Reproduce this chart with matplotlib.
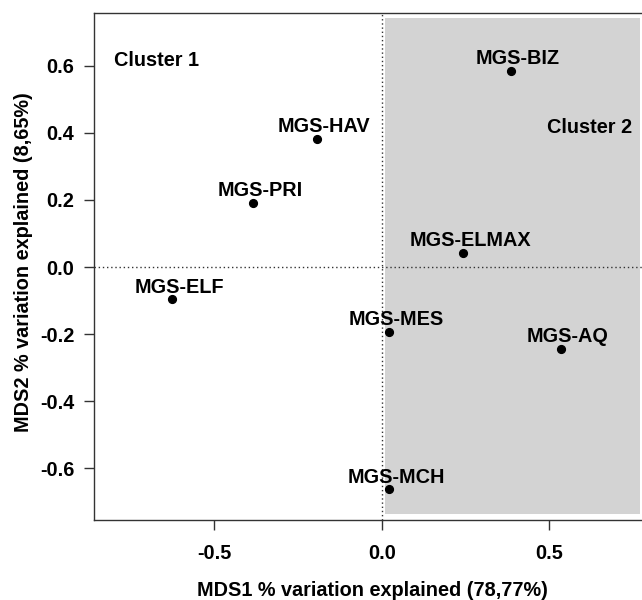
import matplotlib
matplotlib.use("Agg")
import matplotlib.pyplot as plt
from matplotlib.patches import Rectangle

plt.rcParams['font.family'] = ['Liberation Sans', 'DejaVu Sans']
plt.rcParams['font.weight'] = 'bold'

sites = ["MGS-BIZ", "MGS-HAV", "MGS-PRI", "MGS-ELMAX", "MGS-ELF",
         "MGS-MES", "MGS-AQ", "MGS-MCH"]
mds1 = [0.385, -0.194, -0.385, 0.242, -0.624, 0.021, 0.534, 0.021]
mds2 = [0.585, 0.382, 0.191, 0.042, -0.096, -0.194, -0.245, -0.663]

cluster_labels = ["Cluster 1", "Cluster 2"]
cluster_pos = [(-0.672, 0.615), (0.621, 0.415)]

xticks = [-0.5, 0.0, 0.5]
yticks = [-0.6, -0.4, -0.2, 0.0, 0.2, 0.4, 0.6]

fs = 14.3

fig = plt.figure(figsize=(6.42, 6.0), dpi=100)
ax = fig.add_axes([94/642, 80/600, 556/642, 507/600])
ax.set_xlim(-0.858, 0.80)
ax.set_ylim(-0.755, 0.758)

# shaded cluster 2 region
ax.add_patch(Rectangle((0.009, -0.737), 0.761, 1.48, facecolor='#d3d3d3',
                       edgecolor='none', zorder=0))

ax.axhline(0, color='#333333', lw=1.0, linestyle=(0, (1, 2)), zorder=1)
ax.axvline(0, color='#333333', lw=1.0, linestyle=(0, (1, 2)), zorder=1)

ax.plot(mds1, mds2, 'o', color='black', ms=5.6, zorder=3, clip_on=False)
for name, x, y in zip(sites, mds1, mds2):
    ax.annotate(name, (x, y), xytext=(5.2, 4.8), textcoords='offset points',
                ha='center', va='baseline', fontsize=fs, fontweight='bold',
                zorder=4)

for lab, (x, y) in zip(cluster_labels, cluster_pos):
    ax.text(x, y, lab, ha='center', va='center', fontsize=fs, fontweight='bold')

ax.set_xticks(xticks)
ax.set_xticklabels([f"{v:.1f}" for v in xticks])
ax.set_yticks(yticks)
ax.set_yticklabels([f"{v:.1f}" for v in yticks])
ax.tick_params(axis='both', direction='out', length=7.2, width=1.0,
               color='#333333', labelsize=fs)
ax.tick_params(axis='x', pad=10)
ax.tick_params(axis='y', pad=7)
for lbl in ax.get_xticklabels() + ax.get_yticklabels():
    lbl.set_fontweight('bold')

for s in ax.spines.values():
    s.set_linewidth(1.0)
    s.set_color('#333333')

fig.text(372/642, 1 - 590/600, "MDS1 % variation explained (78,77%)",
         ha='center', va='center', fontsize=fs, fontweight='bold')
fig.text(23.5/642, 1 - 262/600, "MDS2 % variation explained (8,65%)",
         ha='center', va='center', rotation=90, fontsize=fs, fontweight='bold')

fig.savefig("out.png", dpi=100)
